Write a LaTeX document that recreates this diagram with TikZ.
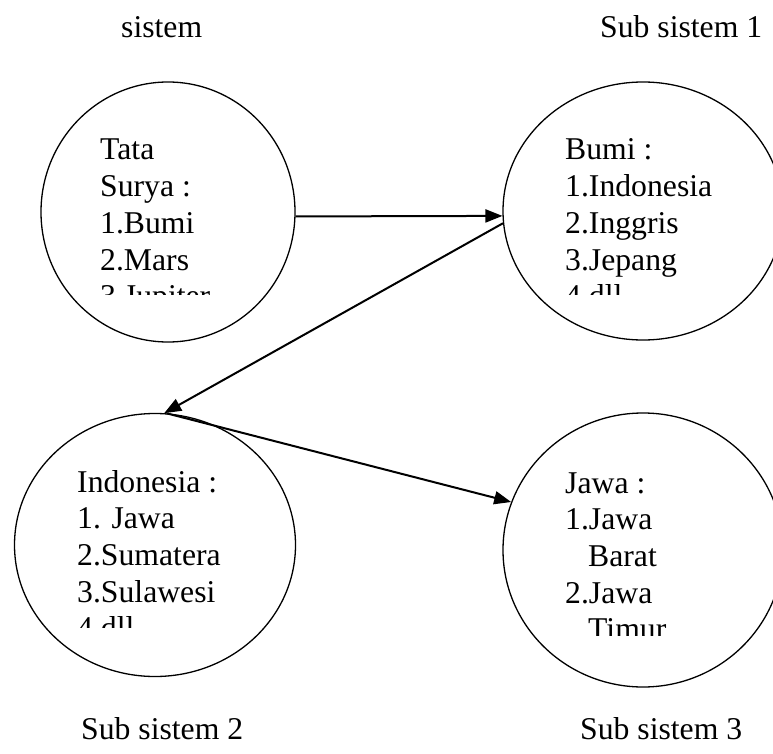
\documentclass[tikz,border=0pt]{standalone}
\usepackage{fontspec}
\setmainfont{Liberation Serif}
\usetikzlibrary{shapes.geometric,arrows.meta}
\tikzset{
  orb/.style={ellipse,draw,line width=1.3pt,inner sep=0pt},
  txt/.style={anchor=base west,inner sep=0pt,font=\fontsize{31.7pt}{36.7pt}\selectfont},
  link/.style={line width=2pt,-{Triangle[length=17pt,width=13pt]}}
}
\begin{document}
\begin{tikzpicture}[x=1pt,y=-1pt]
\clip (0,0) rectangle (773,754);
\fill[white] (0,0) rectangle (773,754);
% circles
\node[orb,minimum width=254pt,minimum height=260pt] (c1) at (168,212) {};
\node[orb,minimum width=280pt,minimum height=258pt] (c2) at (643,211) {};
\node[orb,minimum width=281pt,minimum height=263pt] (c3) at (155,545) {};
\node[orb,minimum width=280pt,minimum height=274pt] (c4) at (643,550) {};
% labels
\node[txt] (l1) at (121,38) {sistem};
\node[txt] (l2) at (600,38) {Sub sistem 1};
\node[txt] (l3) at (81,739) {Sub sistem 2};
\node[txt] (l4) at (580,739) {Sub sistem 3};
% texts in circles (clipped like text boxes)
\begin{scope}
\clip (90,100) rectangle (300,294);
\foreach \s [count=\k] in {Tata,Surya :,1.Bumi,2.Mars,3.Jupiter}
  \node[txt] (ta\k) at (100,{160+36.7*(\k-1)}) {\s};
\end{scope}
\begin{scope}
\clip (555,100) rectangle (773,294);
\foreach \s [count=\k] in {Bumi :,1.Indonesia,2.Inggris,3.Jepang,4.dll}
  \node[txt] (tb\k) at (565,{160+36.7*(\k-1)}) {\s};
\end{scope}
\begin{scope}
\clip (65,440) rectangle (300,627);
\foreach \s [count=\k] in {Indonesia :,1. Jawa,2.Sumatera,3.Sulawesi,4.dll}
  \node[txt] (tc\k) at (77,{492+36.7*(\k-1)}) {\s};
\end{scope}
\begin{scope}
\clip (555,440) rectangle (773,635);
\foreach \s [count=\k] in {Jawa :,1.Jawa,{\hspace*{23pt}Barat},2.Jawa,{\hspace*{23pt}Timur}}
  \node[txt] (td\k) at (565,{493+36.7*(\k-1)}) {\s};
\end{scope}
% connectors
\draw[link] (c1.-2) -- (c2.182);
\draw[link] (c2.185) -- (c3.86);
\draw[link] (c3.85) -- (c4.160);
\end{tikzpicture}
\end{document}
